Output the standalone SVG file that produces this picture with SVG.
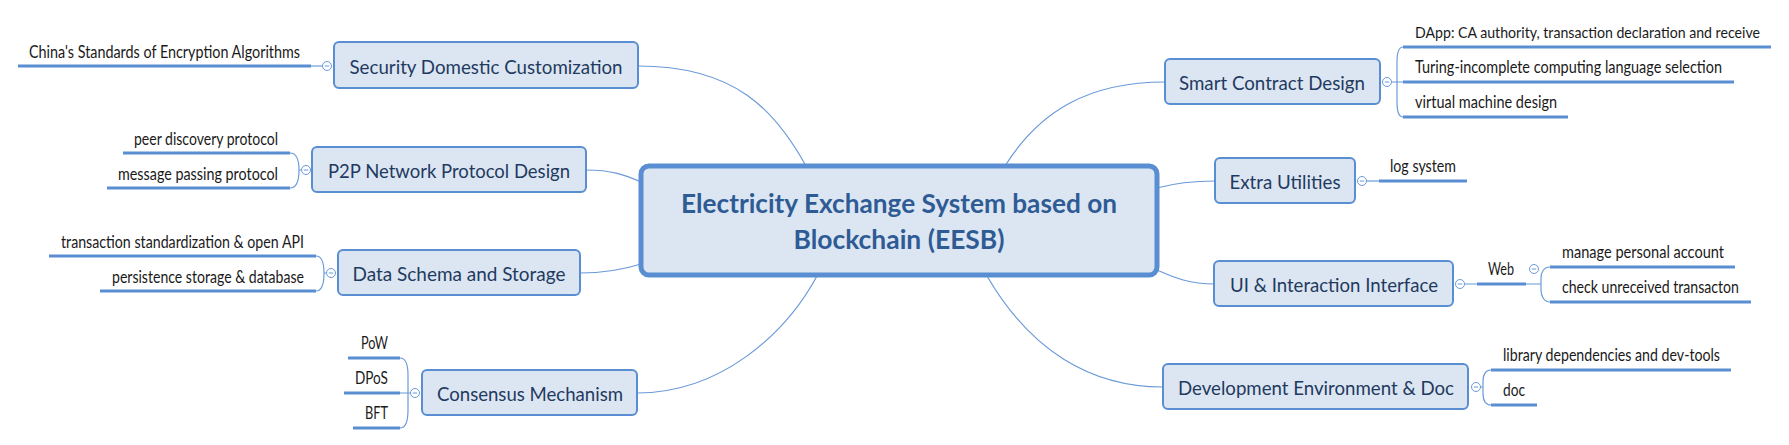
<svg xmlns="http://www.w3.org/2000/svg" width="1789" height="445" viewBox="0 0 1789 445">
<style>
.bg{fill:#ffffff}
.topic{fill:#dce6f2;stroke:#5a8ed2;stroke-width:2}
.main{fill:#dce6f2;stroke:#5a8ed2;stroke-width:5}
.tt{font-family:Lato,"Noto Sans",sans-serif;font-size:20px;fill:#1f3a60;text-anchor:middle}
.mt{font-family:Lato,"Noto Sans",sans-serif;font-size:26px;font-weight:bold;fill:#2f5b95;text-anchor:middle}
.lt{font-family:Lato,"Noto Sans",sans-serif;font-size:16.5px;fill:#1a1a1a}
.ul{stroke:#5a8ed2;stroke-width:3;fill:none}
.cn{stroke:#6b9ad8;stroke-width:1.2;fill:none}
.cc{fill:#ffffff;stroke:#6b9ad8;stroke-width:1}
.cm{stroke:#6b9ad8;stroke-width:1}
</style>
<defs>
<g id="coll"><circle class="cc" cx="0" cy="0" r="4.5"/><line class="cm" x1="-2.2" y1="0" x2="2.2" y2="0"/></g>
</defs>
<rect class="bg" width="1789" height="445"/>
<g id="connectors">
<path class="cn" d="M638,66 C735,66 775,110 806,166"/>
<path class="cn" d="M586,170 C612,170 625,175 641,182"/>
<path class="cn" d="M580,273 C605,273 622,270 641,264"/>
<path class="cn" d="M637,393 C720,393 785,335 817,276"/>
<path class="cn" d="M1005,166 C1040,110 1090,82 1165,82"/>
<path class="cn" d="M1157,188 C1175,183 1190,181 1215,181"/>
<path class="cn" d="M1157,270 C1175,278 1190,284 1214,284"/>
<path class="cn" d="M987,276 C1030,350 1090,387 1163,387"/>
<path class="cn" d="M311,66 L322.5,66"/>
<path class="cn" d="M290,153 C297,153 299,160 299,170 C299,180 297,188 290,188 M299,170 L301.5,170"/>
<path class="cn" d="M316,256 C322,256 324,263 324,273 C324,283 322,291 316,291 M324,273 L326.5,273"/>
<path class="cn" d="M400,358 C406,358 408,366 408,375 L408,410 C408,420 406,428 400,428 M400,393 L410.5,393"/>
<path class="cn" d="M1403,47 C1398,47 1397,54 1397,62 L1397,102 C1397,110 1398,117 1403,117 M1391.5,82 L1403,82"/>
<path class="cn" d="M1366.5,181 L1379,181"/>
<path class="cn" d="M1464.5,284 L1477,284 M1526,284 L1541,284 M1550,267 C1544,267 1541,272 1541,278 L1541,290 C1541,296 1544,302 1550,302"/>
<path class="cn" d="M1491,370 C1485,370 1483,376 1483,382 L1483,393 C1483,400 1485,405 1491,405 M1480.5,387 L1483,387"/>
</g>
<g id="central">
<rect class="main" x="641" y="166" width="516" height="109" rx="8"/>
<text class="mt" x="899" y="213" textLength="436" lengthAdjust="spacingAndGlyphs">Electricity Exchange System based on</text>
<text class="mt" x="899" y="249" textLength="211" lengthAdjust="spacingAndGlyphs">Blockchain (EESB)</text>
</g>
<g id="security">
<rect class="topic" x="334" y="42" width="304" height="46" rx="5"/>
<text class="tt" x="486" y="74" textLength="273" lengthAdjust="spacingAndGlyphs">Security Domestic Customization</text>
<use href="#coll" x="327" y="66"/>
</g>
<g id="security-leaf">
<text class="lt" x="300" y="58" text-anchor="end" textLength="271" lengthAdjust="spacingAndGlyphs">China's Standards of Encryption Algorithms</text>
<line class="ul" x1="18" y1="66" x2="311" y2="66"/>
</g>
<g id="p2p">
<rect class="topic" x="312" y="147" width="274" height="45" rx="5"/>
<text class="tt" x="449" y="178" textLength="242" lengthAdjust="spacingAndGlyphs">P2P Network Protocol Design</text>
<use href="#coll" x="306" y="170"/>
</g>
<g id="p2p-leaves">
<text class="lt" x="278" y="145" text-anchor="end" textLength="144" lengthAdjust="spacingAndGlyphs">peer discovery protocol</text>
<line class="ul" x1="123" y1="153" x2="290" y2="153"/>
<text class="lt" x="278" y="180" text-anchor="end" textLength="160" lengthAdjust="spacingAndGlyphs">message passing protocol</text>
<line class="ul" x1="107" y1="188" x2="290" y2="188"/>
</g>
<g id="data">
<rect class="topic" x="338" y="250" width="242" height="45" rx="5"/>
<text class="tt" x="459" y="281" textLength="213" lengthAdjust="spacingAndGlyphs">Data Schema and Storage</text>
<use href="#coll" x="331" y="273"/>
</g>
<g id="data-leaves">
<text class="lt" x="304" y="248" text-anchor="end" textLength="243" lengthAdjust="spacingAndGlyphs">transaction standardization &amp; open API</text>
<line class="ul" x1="49" y1="256" x2="316" y2="256"/>
<text class="lt" x="304" y="283" text-anchor="end" textLength="192" lengthAdjust="spacingAndGlyphs">persistence storage &amp; database</text>
<line class="ul" x1="100" y1="291" x2="316" y2="291"/>
</g>
<g id="consensus">
<rect class="topic" x="422" y="370" width="215" height="45" rx="5"/>
<text class="tt" x="530" y="401" textLength="186" lengthAdjust="spacingAndGlyphs">Consensus Mechanism</text>
<use href="#coll" x="415" y="393"/>
</g>
<g id="consensus-leaves">
<text class="lt" x="388" y="349" text-anchor="end" textLength="27" lengthAdjust="spacingAndGlyphs">PoW</text>
<line class="ul" x1="348" y1="358" x2="400" y2="358"/>
<text class="lt" x="388" y="384" text-anchor="end" textLength="33" lengthAdjust="spacingAndGlyphs">DPoS</text>
<line class="ul" x1="344" y1="393" x2="400" y2="393"/>
<text class="lt" x="388" y="419" text-anchor="end" textLength="23" lengthAdjust="spacingAndGlyphs">BFT</text>
<line class="ul" x1="353" y1="428" x2="400" y2="428"/>
</g>
<g id="smart">
<rect class="topic" x="1165" y="59" width="215" height="45" rx="5"/>
<text class="tt" x="1272" y="90" textLength="186" lengthAdjust="spacingAndGlyphs">Smart Contract Design</text>
<use href="#coll" x="1387" y="82"/>
</g>
<g id="smart-leaves">
<text class="lt" x="1415" y="38" style="font-size:15px" textLength="345" lengthAdjust="spacingAndGlyphs">DApp: CA authority, transaction declaration and receive</text>
<line class="ul" x1="1403" y1="47" x2="1771" y2="47"/>
<text class="lt" x="1415" y="73" textLength="307" lengthAdjust="spacingAndGlyphs">Turing-incomplete computing language selection</text>
<line class="ul" x1="1403" y1="82" x2="1734" y2="82"/>
<text class="lt" x="1415" y="108" textLength="142" lengthAdjust="spacingAndGlyphs">virtual machine design</text>
<line class="ul" x1="1403" y1="117" x2="1568" y2="117"/>
</g>
<g id="extra">
<rect class="topic" x="1215" y="158" width="140" height="45" rx="5"/>
<text class="tt" x="1285" y="189" textLength="111" lengthAdjust="spacingAndGlyphs">Extra Utilities</text>
<use href="#coll" x="1362" y="181"/>
</g>
<g id="extra-leaf">
<text class="lt" x="1390" y="172" textLength="66" lengthAdjust="spacingAndGlyphs">log system</text>
<line class="ul" x1="1379" y1="181" x2="1467" y2="181"/>
</g>
<g id="ui">
<rect class="topic" x="1214" y="261" width="239" height="45" rx="5"/>
<text class="tt" x="1334" y="292" textLength="208" lengthAdjust="spacingAndGlyphs">UI &amp; Interaction Interface</text>
<use href="#coll" x="1460" y="284"/>
</g>
<g id="web">
<text class="lt" x="1488" y="275" textLength="26" lengthAdjust="spacingAndGlyphs">Web</text>
<line class="ul" x1="1477" y1="284" x2="1526" y2="284"/>
<use href="#coll" x="1534" y="269"/>
</g>
<g id="web-leaves">
<text class="lt" x="1562" y="258" textLength="162" lengthAdjust="spacingAndGlyphs">manage personal account</text>
<line class="ul" x1="1550" y1="267" x2="1735" y2="267"/>
<text class="lt" x="1562" y="293" textLength="177" lengthAdjust="spacingAndGlyphs">check unreceived transacton</text>
<line class="ul" x1="1550" y1="302" x2="1751" y2="302"/>
</g>
<g id="dev">
<rect class="topic" x="1163" y="364" width="305" height="45" rx="5"/>
<text class="tt" x="1316" y="395" textLength="276" lengthAdjust="spacingAndGlyphs">Development Environment &amp; Doc</text>
<use href="#coll" x="1476" y="387"/>
</g>
<g id="dev-leaves">
<text class="lt" x="1503" y="361" textLength="217" lengthAdjust="spacingAndGlyphs">library dependencies and dev-tools</text>
<line class="ul" x1="1491" y1="370" x2="1731" y2="370"/>
<text class="lt" x="1503" y="396" textLength="22" lengthAdjust="spacingAndGlyphs">doc</text>
<line class="ul" x1="1491" y1="405" x2="1537" y2="405"/>
</g>
</svg>
